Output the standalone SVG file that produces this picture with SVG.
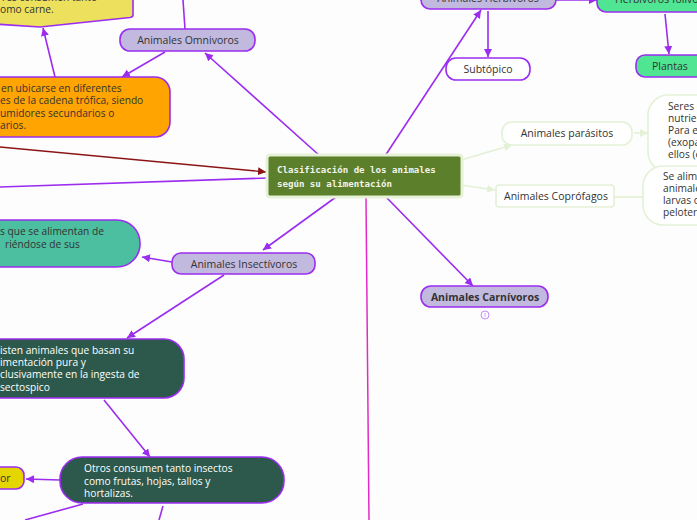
<svg xmlns="http://www.w3.org/2000/svg" width="697" height="520" viewBox="0 0 697 520">
<style>
.t{font-family:"Open Sans","Liberation Sans",sans-serif;font-size:10.5px;fill:#333}
.m{font-size:10.2px}
.tw{font-family:"Open Sans","Liberation Sans",sans-serif;font-size:10.2px;fill:#fff}
.c{text-anchor:middle}
.lav{fill:#c2b9de;stroke:#9b2cf0;stroke-width:1.6}
.pl{stroke:#9b2cf0;stroke-width:1.6;fill:none}
.lg{stroke:#e3f1d6;stroke-width:1.6;fill:none}
.lgn{fill:#fff;stroke:#e3f1d6;stroke-width:1.6}
.ct{font-family:"DejaVu Sans Mono","Liberation Mono",monospace;font-size:9.1px;fill:#f4f4ea;font-weight:bold}
</style>
<defs>
<marker id="ap" markerUnits="userSpaceOnUse" markerWidth="10" markerHeight="10" refX="8" refY="4" orient="auto"><path d="M0,0 L8,4 L0,8 Z" fill="#9b2cf0"/></marker>
<marker id="ar" markerUnits="userSpaceOnUse" markerWidth="10" markerHeight="10" refX="8" refY="4" orient="auto"><path d="M0,0 L8,4 L0,8 Z" fill="#8b1414"/></marker>
<marker id="ag" markerUnits="userSpaceOnUse" markerWidth="10" markerHeight="10" refX="8" refY="4" orient="auto"><path d="M0,0 L8,4 L0,8 Z" fill="#e3f1d6"/></marker>
</defs>
<rect width="697" height="520" fill="#fdfdfd"/>
<g id="connectors">
<path class="pl" d="M320,156 L205,53" marker-end="url(#ap)"/>
<path class="pl" d="M385,156 L481,10" marker-end="url(#ap)"/>
<path class="pl" d="M336,197 L263,250" marker-end="url(#ap)"/>
<path class="pl" d="M387,198 L473,286" marker-end="url(#ap)"/>
<path d="M366,198 L369,520" stroke="#e22bc6" stroke-width="1.5" fill="none"/>
<path d="M0,147 L266,172" stroke="#8b1414" stroke-width="1.4" fill="none" marker-end="url(#ar)"/>
<path class="pl" d="M268,178 L0,187"/>
<path class="lg" d="M461,160 L512,145" marker-end="url(#ag)"/>
<path class="lg" d="M461,185 L495,190" marker-end="url(#ag)"/>
<path class="lg" d="M634,133 L648,133" marker-end="url(#ag)"/>
<path class="lg" d="M614,197 L643,197"/>
<path class="pl" d="M185,29 L183,0"/>
<path class="pl" d="M165,52 L122,77" marker-end="url(#ap)"/>
<path class="pl" d="M55,77 L43,28" marker-end="url(#ap)"/>
<path class="pl" d="M488,11 L488,57" marker-end="url(#ap)"/>
<path class="pl" d="M556,0 L597,0" marker-end="url(#ap)"/>
<path class="pl" d="M665,14 L669,54" marker-end="url(#ap)"/>
<path class="pl" d="M172,262 L142,257" marker-end="url(#ap)"/>
<path class="pl" d="M224,275 L127,338" marker-end="url(#ap)"/>
<path class="pl" d="M104,400 L150,457" marker-end="url(#ap)"/>
<path class="pl" d="M60,480 L26,479" marker-end="url(#ap)"/>
<path class="pl" d="M83,504 L25,520"/>
<path class="pl" d="M163,506 L159,520"/>
</g>
<g id="center">
<rect x="267" y="155" width="195" height="42" rx="3" fill="#5b7f2b" stroke="#e6f2d7" stroke-width="3"/>
<text class="ct" x="277" y="173">Clasificación de los animales</text>
<text class="ct" x="277" y="187">según su alimentación</text>
</g>
<g id="omnivoros">
<rect class="lav" x="120" y="29" width="135" height="22" rx="10"/>
<text class="t c" x="188" y="44">Animales Omnivoros</text>
</g>
<g id="yellow-top">
<path d="M-5,-10 L133,-10 L133,15 Q133,17 130,17.5 L40,27 L-5,24 Z" fill="#ede05c" stroke="#9b2cf0" stroke-width="1.6"/>
<text class="t m" x="2" y="1">res consumen tanto</text>
<text class="t m" x="0" y="13">omo carne.</text>
</g>
<g id="orange">
<rect x="-20" y="77" width="190" height="60" rx="15" fill="#ffa400" stroke="#9b2cf0" stroke-width="1.6"/>
<text class="t m" x="1" y="92">en ubicarse en diferentes</text>
<text class="t m" x="0" y="104">es de la cadena trófica, siendo</text>
<text class="t m" x="0" y="117">umidores secundarios o</text>
<text class="t m" x="0" y="129">arios.</text>
</g>
<g id="herbivoros">
<rect class="lav" x="421" y="-12" width="135" height="21" rx="9"/>
<text class="t c" x="488" y="2">Animales Herbivoros</text>
</g>
<g id="folivoros">
<rect x="597" y="-12" width="125" height="24" rx="9" fill="#4fe592" stroke="#9b2cf0" stroke-width="1.6"/>
<text class="t" x="615" y="3">Herbivoros folivoros</text>
</g>
<g id="plantas">
<rect x="636" y="55" width="90" height="22" rx="9" fill="#4fe592" stroke="#9b2cf0" stroke-width="1.6"/>
<text class="t" x="652" y="70">Plantas</text>
</g>
<g id="subtopico">
<rect x="446" y="58" width="84" height="22" rx="10" fill="#fff" stroke="#9b2cf0" stroke-width="1.6"/>
<text class="t c" x="488" y="73">Subtópico</text>
</g>
<g id="parasitos">
<rect class="lgn" x="502" y="122" width="130" height="23" rx="10"/>
<text class="t c" x="567" y="137">Animales parásitos</text>
</g>
<g id="parasitos-text">
<rect class="lgn" x="648" y="95" width="80" height="77" rx="20"/>
<text class="t m" x="668" y="110">Seres que</text>
<text class="t m" x="668" y="122">nutrientes</text>
<text class="t m" x="668" y="134">Para ello</text>
<text class="t m" x="668" y="146">(exoparás</text>
<text class="t m" x="668" y="158">ellos (end</text>
</g>
<g id="coprofagos">
<rect class="lgn" x="496" y="185" width="118" height="22" rx="3"/>
<text class="t c" x="556" y="200">Animales Coprófagos</text>
</g>
<g id="coprofagos-text">
<rect class="lgn" x="643" y="166" width="85" height="59" rx="20"/>
<text class="t m" x="663" y="180">Se alimen</text>
<text class="t m" x="663" y="192">animales</text>
<text class="t m" x="663" y="204">larvas de</text>
<text class="t m" x="663" y="216">peloteros</text>
</g>
<g id="teal">
<rect x="-30" y="220" width="170" height="47" rx="23" fill="#4bbf9f" stroke="#9b2cf0" stroke-width="1.6"/>
<text class="t m" x="0" y="235">s que se alimentan de</text>
<text class="t m" x="5" y="248">riéndose de sus</text>
</g>
<g id="insectivoros">
<rect class="lav" x="172" y="253" width="143" height="21" rx="9"/>
<text class="t c" x="244" y="268">Animales Insectívoros</text>
</g>
<g id="carnivoros">
<rect class="lav" x="421" y="286" width="127" height="21" rx="10"/>
<text class="t c" x="485" y="301" font-weight="bold">Animales Carnívoros</text>
<circle cx="485" cy="315" r="4" fill="#fff" stroke="#c48af5" stroke-width="1"/>
<path d="M485,313 L485,317" stroke="#c48af5" stroke-width="0.8"/>
</g>
<g id="dark1">
<rect x="-30" y="339" width="214" height="59" rx="20" fill="#2c594b" stroke="#9b2cf0" stroke-width="1.6"/>
<text class="tw" x="0" y="354">isten animales que basan su</text>
<text class="tw" x="0" y="366">imentación pura y</text>
<text class="tw" x="0" y="378">clusivamente en la ingesta de</text>
<text class="tw" x="0" y="391">sectospico</text>
</g>
<g id="dark2">
<rect x="60" y="457" width="224" height="46" rx="22" fill="#2c594b" stroke="#9b2cf0" stroke-width="1.6"/>
<text class="tw" x="84" y="472">Otros consumen tanto insectos</text>
<text class="tw" x="84" y="485">como frutas, hojas, tallos y</text>
<text class="tw" x="84" y="497">hortalizas.</text>
</g>
<g id="yellow-small">
<rect x="-15" y="467" width="39" height="22" rx="8" fill="#e6d600" stroke="#9b2cf0" stroke-width="1.6"/>
<text class="t" x="0" y="482">or</text>
</g>
</svg>
